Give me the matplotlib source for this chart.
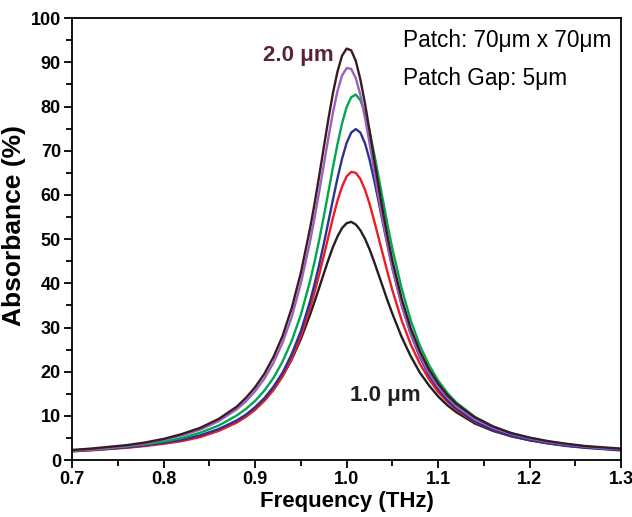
import matplotlib.pyplot as plt
from matplotlib.ticker import MultipleLocator

plt.rcParams['font.family'] = ['Liberation Sans', 'DejaVu Sans']

# Frequency grid (THz)
freq = [0.70, 0.72, 0.74, 0.76, 0.78, 0.80, 0.82, 0.84, 0.86,
        0.88, 0.89, 0.90, 0.91, 0.92, 0.93, 0.94, 0.95, 0.96,
        0.965, 0.97, 0.975, 0.98, 0.985, 0.99, 0.995, 1.00, 1.005,
        1.01, 1.015, 1.02, 1.025, 1.03, 1.035, 1.04, 1.045, 1.05,
        1.06, 1.07, 1.08, 1.09, 1.10, 1.11, 1.12,
        1.14, 1.16, 1.18, 1.20, 1.22, 1.24, 1.26, 1.28, 1.30]

# Absorbance (%) for each thickness, 1.0 um ... 2.0 um
abs_1p0 = [2.1, 2.3, 2.6, 2.9, 3.3, 3.9, 4.5, 5.5, 6.9,
           8.7, 10.0, 11.5, 13.5, 15.9, 19.0, 22.8, 27.4, 32.9,
           35.9, 39.0, 42.2, 45.3, 48.2, 50.6, 52.5, 53.6, 53.9,
           53.3, 52.0, 50.1, 47.7, 44.9, 41.9, 38.9, 35.9, 33.1,
           27.9, 23.5, 19.8, 16.9, 14.4, 12.4, 10.8,
           8.3, 6.6, 5.4, 4.5, 3.8, 3.3, 2.9, 2.6, 2.3]
abs_1p2 = [2.0, 2.2, 2.5, 2.8, 3.2, 3.7, 4.3, 5.2, 6.6,
           8.5, 9.8, 11.4, 13.4, 15.9, 19.0, 23.0, 28.0, 34.4,
           38.0, 42.0, 46.2, 50.5, 54.8, 58.7, 61.9, 64.2, 65.2,
           65.0, 63.6, 61.2, 58.0, 54.2, 50.2, 46.2, 42.2, 38.4,
           31.7, 26.2, 21.8, 18.3, 15.4, 13.2, 11.3,
           8.6, 6.8, 5.5, 4.6, 3.9, 3.3, 2.9, 2.6, 2.3]
abs_1p4 = [2.0, 2.3, 2.6, 2.9, 3.4, 3.9, 4.6, 5.6, 7.0,
           9.0, 10.3, 12.0, 14.0, 16.6, 19.8, 24.0, 29.2, 35.9,
           39.9, 44.2, 48.9, 53.9, 58.9, 63.8, 68.2, 71.8, 74.1,
           74.9, 74.1, 71.7, 68.0, 63.4, 58.4, 53.2, 48.2, 43.4,
           35.1, 28.5, 23.3, 19.2, 16.1, 13.6, 11.6,
           8.7, 6.8, 5.4, 4.5, 3.8, 3.2, 2.8, 2.5, 2.2]
abs_1p6 = [2.1, 2.4, 2.7, 3.1, 3.6, 4.2, 5.0, 6.2, 7.8,
           10.1, 11.6, 13.4, 15.7, 18.6, 22.3, 27.0, 32.9, 40.5,
           44.9, 49.8, 55.1, 60.6, 66.2, 71.5, 76.2, 79.9, 82.1,
           82.7, 81.4, 78.6, 74.4, 69.4, 63.9, 58.4, 52.9, 47.8,
           38.9, 31.6, 25.9, 21.5, 18.0, 15.2, 13.0,
           9.8, 7.6, 6.1, 5.0, 4.2, 3.6, 3.1, 2.7, 2.5]
abs_1p8 = [2.2, 2.4, 2.8, 3.2, 3.8, 4.6, 5.6, 6.9, 8.8,
           11.5, 13.3, 15.6, 18.4, 22.0, 26.6, 32.4, 40.0, 49.4,
           54.9, 60.7, 66.8, 72.9, 78.6, 83.5, 87.0, 88.7, 88.5,
           86.4, 82.6, 77.5, 71.7, 65.6, 59.5, 53.8, 48.4, 43.5,
           35.2, 28.7, 23.7, 19.7, 16.6, 14.2, 12.2,
           9.3, 7.3, 5.9, 4.9, 4.1, 3.5, 3.1, 2.7, 2.5]
abs_2p0 = [2.3, 2.6, 3.0, 3.4, 4.0, 4.8, 5.9, 7.3, 9.3,
           12.1, 14.1, 16.5, 19.5, 23.3, 28.1, 34.4, 42.4, 52.4,
           58.1, 64.3, 70.7, 77.1, 83.0, 87.9, 91.5, 93.1, 92.7,
           90.3, 86.1, 80.7, 74.6, 68.1, 61.8, 55.8, 50.2, 45.1,
           36.6, 29.8, 24.6, 20.5, 17.3, 14.7, 12.7,
           9.7, 7.6, 6.1, 5.1, 4.3, 3.7, 3.2, 2.9, 2.6]

series = [abs_1p0, abs_1p2, abs_1p4, abs_1p6, abs_1p8, abs_2p0]
colors = ['#231f20', '#ed1c24', '#2e3192', '#00a651', '#9b5fc0', '#3b1a20']

fig = plt.figure(figsize=(6.32, 5.17), dpi=100)
ax = fig.add_axes([0.114, 0.110, 0.869, 0.855])

for vals, c in zip(series, colors):
    ax.plot(freq, vals, color=c, lw=1.7)

ax.set_xlim(0.7, 1.3)
ax.set_ylim(0, 100)
ax.xaxis.set_major_locator(MultipleLocator(0.1))
ax.xaxis.set_minor_locator(MultipleLocator(0.05))
ax.yaxis.set_major_locator(MultipleLocator(10))
ax.yaxis.set_minor_locator(MultipleLocator(5))
ax.xaxis.set_major_formatter(plt.FormatStrFormatter('%.1f'))

ax.tick_params(which='major', direction='out', length=6, width=1.3,
               labelsize=13, pad=2)
ax.tick_params(which='minor', direction='out', length=4, width=1.3)
ax.tick_params(top=False, right=False)
for lab in ax.get_xticklabels() + ax.get_yticklabels():
    lab.set_fontweight('bold')
for sp in ax.spines.values():
    sp.set_linewidth(1.3)

ax.set_xlabel('Frequency (THz)', fontsize=16, fontweight='bold', labelpad=2)
ax.set_ylabel('Absorbance (%)', fontsize=19, fontweight='bold')
ax.yaxis.set_label_coords(-0.083, 0.53)

ax.text(0.986, 91.6, '2.0 \u03bcm', color='#5a2232', fontsize=16,
        fontweight='bold', ha='right', va='center')
ax.text(1.042, 14.7, '1.0 \u03bcm', color='#231f20', fontsize=16,
        fontweight='bold', ha='center', va='center')
ax.text(1.062, 94.9, 'Patch: 70\u03bcm x 70\u03bcm', fontsize=16.3,
        ha='left', va='center')
ax.text(1.062, 86.4, 'Patch Gap: 5\u03bcm', fontsize=16.3,
        ha='left', va='center')

fig.savefig('out.png', dpi=100)
